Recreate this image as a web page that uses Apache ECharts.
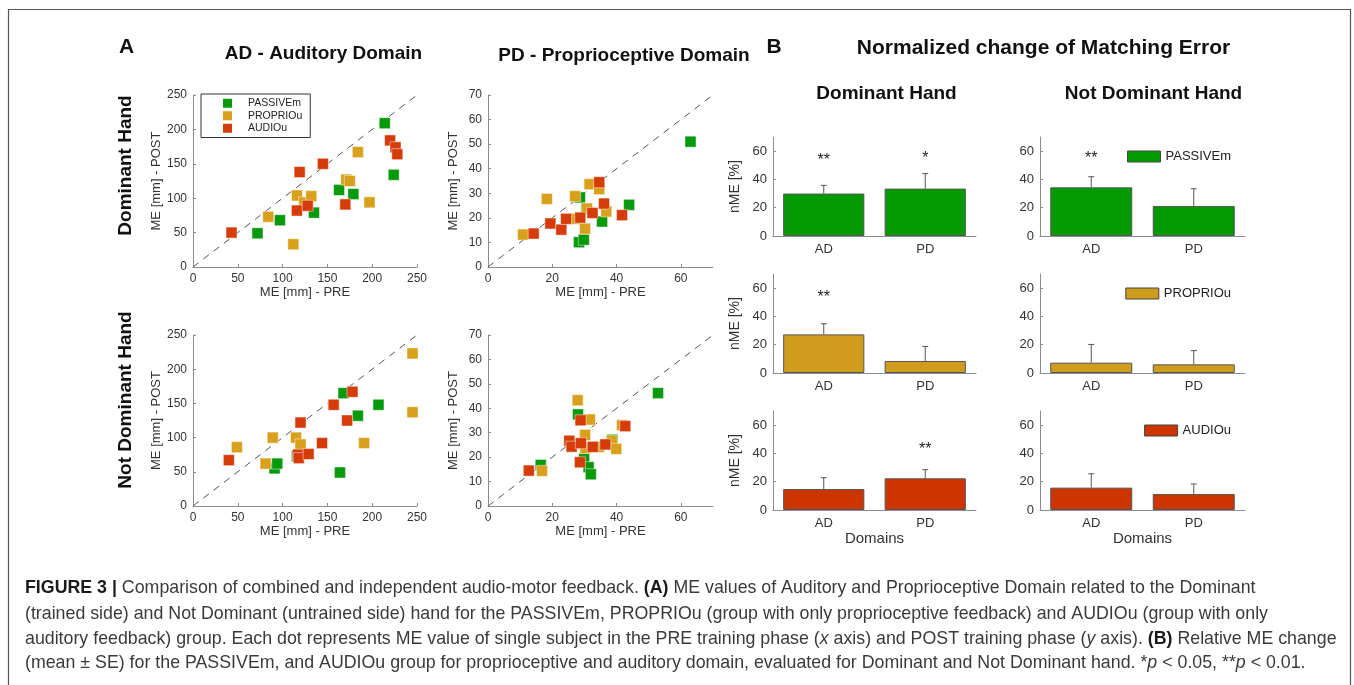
<!DOCTYPE html>
<html>
<head>
<meta charset="utf-8">
<script src="https://cdn.jsdelivr.net/npm/echarts@6/dist/echarts.min.js"></script>
<style>
html,body{margin:0;padding:0;background:#fff;}
#c{width:1354px;height:685px;}
</style>
</head>
<body>
<div id="c"></div>
<script>
// ---------------- DATA ----------------
// Scatter: [PRE, POST] in mm
const adDomPassive = [[214,209],[72,49],[97,68],[135,79],[163,112],[179,106],[224,134]];
const adDomProprio = [[84,73],[112,33],[116,104],[124,94],[132,103],[171,127],[175,125],[184,167],[197,94]];
const adDomAudio   = [[43,50],[119,138],[116,82],[128,89],[145,150],[170,91],[220,184],[226,174],[228,164]];

const pdDomPassive = [[63,51],[28.6,28.3],[28.3,10.1],[29.8,11.1],[30.6,23.7],[35.5,18.5],[43.9,25.3]];
const pdDomProprio = [[10.9,13.2],[18.3,27.7],[27.1,28.8],[27.5,19.6],[30.8,23.8],[30.2,15.6],[31.6,33.7],[34.6,31.7],[36.8,22.6]];
const pdDomAudio   = [[14.2,13.6],[19.4,17.7],[22.8,15.2],[24.3,19.6],[28.7,20.1],[32.5,22],[34.6,34.5],[36.1,25.8],[41.7,21.1]];

const adNdPassive = [[168,165],[91,55],[94,62],[116,73],[164,49],[184,132],[207,148]];
const adNdProprio = [[49,86],[81,62],[89,100],[115,100],[120,90],[191,92],[245,223],[245,137]];
const adNdAudio   = [[40,67],[117,75],[118,70],[120,122],[129,76],[144,92],[157,148],[172,125],[178,167]];

const pdNdPassive = [[52.9,46.2],[16.4,16.8],[28,37.5],[29.9,19.3],[31.3,15.9],[32,13],[38.7,27.1]];
const pdNdProprio = [[16.8,14.4],[27.9,43.3],[30.2,29.1],[30.3,23.7],[31.7,35.4],[34.5,24.2],[38.5,26.7],[39.9,23.4],[41.7,33.1]];
const pdNdAudio   = [[12.7,14.5],[25.3,26.7],[26,24.3],[28.8,35.1],[28.9,25.7],[28.6,17.9],[32.6,24.2],[36.5,25.2],[42.7,32.7]];

const adAxisMax = 250, adInterval = 50;
const pdAxisMax = 70, pdXInterval = 20, pdYInterval = 10;

// Bars: normalized change of ME [%] (mean, SE) for categories AD, PD
const domains = ['AD','PD'];
const domPassiveMean = [30.0, 33.5], domPassiveSE = [5.8, 10.6];
const ndPassiveMean  = [34.4, 21.2], ndPassiveSE  = [7.5, 12.2];
const domProprioMean = [27.3, 8.5],  domProprioSE = [7.5, 10.3];
const ndProprioMean  = [7.3, 6.1],   ndProprioSE  = [12.9, 9.7];
const domAudioMean   = [14.8, 22.4], domAudioSE   = [8.0, 6.1];
const ndAudioMean    = [15.8, 11.3], ndAudioSE    = [9.8, 7.1];

// significance marks and the level (in %) where they are written
const domPassiveStars = ['**','*'], domPassiveStarLevel = [53, 55];
const ndPassiveStars  = ['**',''],  ndPassiveStarLevel  = [55, 0];
const domProprioStars = ['**',''],  domProprioStarLevel = [53, 0];
const ndProprioStars  = ['',''],    ndProprioStarLevel  = [0, 0];
const domAudioStars   = ['','**'],  domAudioStarLevel   = [0, 43];
const ndAudioStars    = ['',''],    ndAudioStarLevel    = [0, 0];

const groupNames = ['PASSIVEm','PROPRIOu','AUDIOu'];

// ---------------- STYLE ----------------
const FONT = "'Liberation Sans', Arial, Helvetica, sans-serif";
const scatterColors = ['#069a0c','#d9a01c','#d63c0a'];
const barColors = ['#049a04','#d09c1e','#cc3500'];
const axisGray = '#8c8c8c';
const textGray = '#333';

const chart = echarts.init(document.getElementById('c'), null, {renderer:'canvas'});

const grids = [], xAxes = [], yAxes = [], series = [];

function valueAxis(max, interval, name, gi, isX, gap, labelSize){
  return {
    type:'value', gridIndex:gi, min:0, max:max, interval:interval,
    name:name, nameLocation:'middle', nameGap:gap,
    nameTextStyle:{fontFamily:FONT, fontSize:13, color:textGray},
    axisLine:{show:true, onZero:false, lineStyle:{color:axisGray, width:1}},
    axisTick:{show:true, inside:true, length:3, lineStyle:{color:axisGray}},
    axisLabel:{fontFamily:FONT, fontSize:labelSize || 12, color:textGray, margin:6, showMaxLabel: (max % interval === 0)},
    splitLine:{show:false}
  };
}

// scatter panels
const scatterPanels = [
  {left:193, top:95,  w:224, h:172, max:adAxisMax, xi:adInterval, yi:adInterval, sets:[adDomPassive, adDomProprio, adDomAudio]},
  {left:488, top:95,  w:225, h:172, max:pdAxisMax, xi:pdXInterval, yi:pdYInterval, sets:[pdDomPassive, pdDomProprio, pdDomAudio]},
  {left:193, top:335, w:224, h:171, max:adAxisMax, xi:adInterval, yi:adInterval, sets:[adNdPassive, adNdProprio, adNdAudio]},
  {left:488, top:335, w:225, h:171, max:pdAxisMax, xi:pdXInterval, yi:pdYInterval, sets:[pdNdPassive, pdNdProprio, pdNdAudio]}
];
scatterPanels.forEach((p, gi) => {
  grids.push({left:p.left, top:p.top, width:p.w, height:p.h, containLabel:false});
  xAxes.push(valueAxis(p.max, p.xi, 'ME [mm] - PRE', gi, true, 18));
  yAxes.push(valueAxis(p.max, p.yi, 'ME [mm] - POST', gi, false, 28));
  series.push({
    type:'line', xAxisIndex:gi, yAxisIndex:gi, data:[[0,0],[p.max,p.max]],
    symbol:'none', silent:true, z:1,
    lineStyle:{color:'#555', width:1, type:[7,6]}
  });
  p.sets.forEach((d, k) => {
    series.push({
      type:'scatter', name:groupNames[k], xAxisIndex:gi, yAxisIndex:gi, data:d,
      symbol:'rect', symbolSize:11, z:3+k,
      itemStyle:{color:scatterColors[k], opacity:1, borderColor:'rgba(255,255,255,0.45)', borderWidth:1}
    });
  });
});

// bar panels
const barPanels = [
  {left:773,  top:137, mean:domPassiveMean, se:domPassiveSE, stars:domPassiveStars, lvl:domPassiveStarLevel, k:0, yName:true,  xName:false},
  {left:1040, top:137, mean:ndPassiveMean,  se:ndPassiveSE,  stars:ndPassiveStars,  lvl:ndPassiveStarLevel,  k:0, yName:false, xName:false},
  {left:773,  top:274, mean:domProprioMean, se:domProprioSE, stars:domProprioStars, lvl:domProprioStarLevel, k:1, yName:true,  xName:false},
  {left:1040, top:274, mean:ndProprioMean,  se:ndProprioSE,  stars:ndProprioStars,  lvl:ndProprioStarLevel,  k:1, yName:false, xName:false},
  {left:773,  top:411, mean:domAudioMean,   se:domAudioSE,   stars:domAudioStars,   lvl:domAudioStarLevel,   k:2, yName:true,  xName:true},
  {left:1040, top:411, mean:ndAudioMean,    se:ndAudioSE,    stars:ndAudioStars,    lvl:ndAudioStarLevel,    k:2, yName:false, xName:true}
];
barPanels.forEach((p, i) => {
  const gi = grids.length;
  grids.push({left:p.left, top:p.top, width:(p.left>1000?205:203), height:99, containLabel:false});
  xAxes.push({
    type:'category', gridIndex:gi, data:domains,
    name: p.xName ? 'Domains' : '', nameLocation:'middle', nameGap:20,
    nameTextStyle:{fontFamily:FONT, fontSize:15, color:textGray},
    axisLine:{show:true, lineStyle:{color:axisGray}},
    axisTick:{show:false},
    axisLabel:{fontFamily:FONT, fontSize:13, color:textGray, margin:7}
  });
  const ya = valueAxis(70, 20, p.yName ? 'nME [%]' : '', gi, false, 31, 13);
  ya.nameTextStyle.fontSize = 14;
  yAxes.push(ya);
  series.push({
    type:'bar', name:groupNames[p.k], xAxisIndex:gi, yAxisIndex:gi, data:p.mean,
    barWidth:'80%', z:2,
    itemStyle:{color:barColors[p.k], opacity:1, borderColor:'#555', borderWidth:1}
  });
  const errData = p.mean.map((m, j) => [j, m, p.se[j]]);
  series.push({
    type:'custom', xAxisIndex:gi, yAxisIndex:gi, data:errData, silent:true, z:4,
    encode:{x:0, y:1},
    renderItem:function(params, api){
      const x = api.value(0), m = api.value(1), s = api.value(2);
      const a = api.coord([x, m]), b = api.coord([x, m + s]);
      return {type:'group', children:[
        {type:'line', shape:{x1:a[0], y1:a[1], x2:b[0], y2:b[1]}, style:{stroke:'#555', lineWidth:1}},
        {type:'line', shape:{x1:b[0]-3, y1:b[1], x2:b[0]+3, y2:b[1]}, style:{stroke:'#555', lineWidth:1}}
      ]};
    }
  });
  const starData = p.lvl.map((l, j) => [j, l]);
  const starTxt = p.stars;
  series.push({
    type:'custom', xAxisIndex:gi, yAxisIndex:gi, data:starData, silent:true, z:5,
    encode:{x:0, y:1},
    renderItem:function(params, api){
      const t = starTxt[params.dataIndex];
      if(!t) return null;
      const c = api.coord([api.value(0), api.value(1)]);
      return {type:'text', style:{text:t, x:c[0], y:c[1], textAlign:'center', textVerticalAlign:'middle',
        font:'16px ' + FONT, fill:'#222'}};
    }
  });
});

// legends
const legends = [
  {
    orient:'vertical', left:201, top:94, padding:[3,8,3,22], itemGap:0,
    itemWidth:9, itemHeight:9, borderColor:'#333', borderWidth:1, selectedMode:false,
    textStyle:{fontFamily:FONT, fontSize:10.5, color:'#222', lineHeight:12.5, padding:[0,0,0,11]},
    data: groupNames.map((n, k) => ({name:n, icon:'rect', itemStyle:{color:scatterColors[k], opacity:1, borderWidth:0}}))
  }
];
[[0,150],[1,287],[2,424]].forEach(([k, top]) => {
  legends.push({
    right:123, top:top, padding:0, itemWidth:33, itemHeight:11, selectedMode:false,
    textStyle:{fontFamily:FONT, fontSize:13, color:'#222'},
    data:[{name:groupNames[k], icon:'rect', itemStyle:{color:barColors[k], opacity:1, borderColor:'#444', borderWidth:1}}]
  });
});

function txt(t, x, y, size, opts){
  return Object.assign({type:'text', x:x, y:y, silent:true, style:{
    text:t, textAlign:'center', textVerticalAlign:'middle',
    font:'bold ' + size + 'px ' + FONT, fill:'#111'}}, opts || {});
}

const CAP = 17.8;
const capStyle = {
  font:CAP + 'px ' + FONT, fill:'#3a3a3a', textAlign:'left', textVerticalAlign:'middle',
  rich:{
    b:{fontFamily:FONT, fontSize:CAP, fontWeight:'bold', fill:'#1a1a1a', color:'#1a1a1a'},
    i:{fontFamily:FONT, fontSize:CAP, fontStyle:'italic', color:'#3a3a3a'},
    n:{fontFamily:FONT, fontSize:CAP, color:'#3a3a3a'}
  }
};
const capLines = [
  '{b|FIGURE 3 |}{n| Comparison of combined and independent audio-motor feedback. }{b|(A)}{n| ME values of Auditory and Proprioceptive Domain related to the Dominant}',
  '{n|(trained side) and Not Dominant (untrained side) hand for the PASSIVEm, PROPRIOu (group with only proprioceptive feedback) and AUDIOu (group with only}',
  '{n|auditory feedback) group. Each dot represents ME value of single subject in the PRE training phase (}{i|x}{n| axis) and POST training phase (}{i|y}{n| axis). }{b|(B)}{n| Relative ME change}',
  '{n|(mean \u00b1 SE) for the PASSIVEm, and AUDIOu group for proprioceptive and auditory domain, evaluated for Dominant and Not Dominant hand. *}{i|p}{n| < 0.05, **}{i|p}{n| < 0.01.}'
];
const capY = [588, 614, 639, 663];

const graphics = [
  {type:'rect', silent:true, shape:{x:8.5, y:9.5, width:1342, height:700}, style:{fill:'none', stroke:'#555', lineWidth:1.2}},
  txt('A', 126.5, 47.5, 21),
  txt('AD - Auditory Domain', 323.5, 54, 19),
  txt('PD - Proprioceptive Domain', 624, 56, 19),
  txt('B', 774, 47, 21),
  txt('Normalized change of Matching Error', 1043.5, 48, 21),
  txt('Dominant Hand', 886.5, 94, 19),
  txt('Not Dominant Hand', 1153.5, 94, 19),
  txt('Dominant Hand', 126, 165.5, 19, {rotation:Math.PI/2}),
  txt('Not Dominant Hand', 126, 400, 19, {rotation:Math.PI/2})
];
capLines.forEach((l, i) => {
  graphics.push({type:'text', x:25, y:capY[i], silent:true, style:Object.assign({text:l}, capStyle)});
});

chart.setOption({
  animation:false,
  backgroundColor:'#fff',
  textStyle:{fontFamily:FONT},
  grid:grids, xAxis:xAxes, yAxis:yAxes, series:series,
  legend:legends,
  graphic:graphics
});
</script>
</body>
</html>
